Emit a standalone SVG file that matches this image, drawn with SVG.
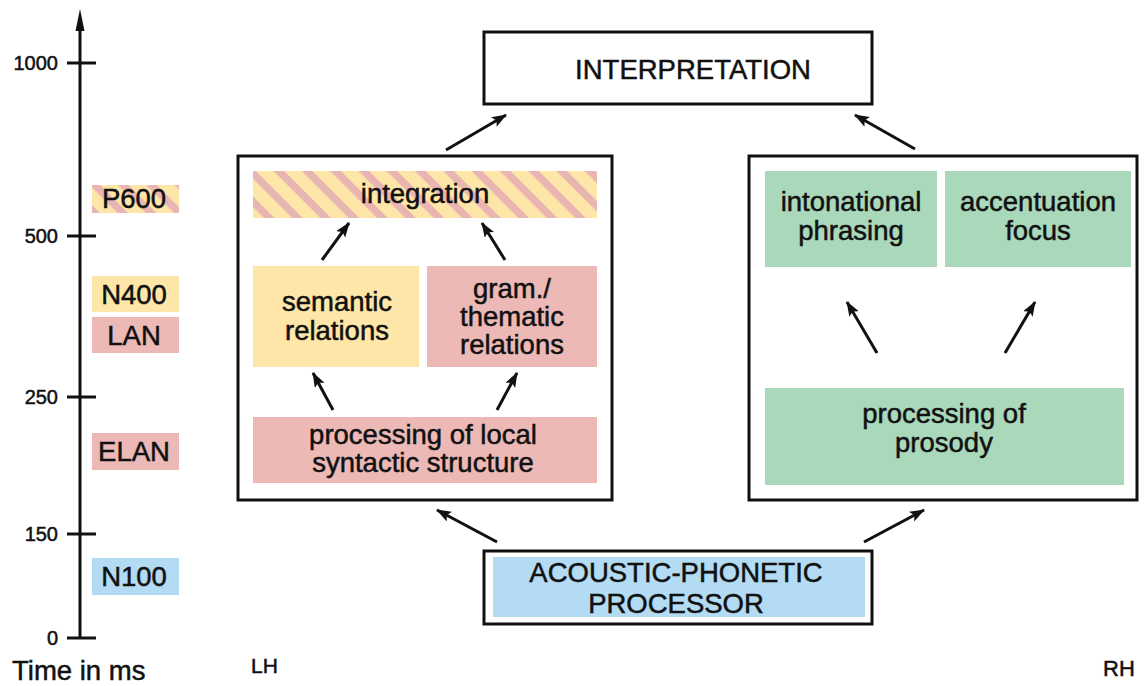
<svg xmlns="http://www.w3.org/2000/svg" width="1146" height="686" viewBox="0 0 1146 686">
<style>
text{font-family:"Liberation Sans",Arial,Helvetica,sans-serif;fill:#111;stroke:#111;stroke-width:0.5px;}
.t{font-size:27.5px;text-anchor:middle;}
.tick{font-size:20px;text-anchor:end;}
.frame{fill:#fff;stroke:#111;stroke-width:3;}
.yel{fill:#fde6a8;}
.pink{fill:#ecb9b7;}
.green{fill:#a9d8bb;}
.blue{fill:#b3dcf4;}
.ax{stroke:#111;stroke-width:3;fill:none;}
.arr{stroke:#111;stroke-width:3;fill:none;marker-end:url(#ah);}
</style>
<defs>
<marker id="ah" markerUnits="userSpaceOnUse" markerWidth="16" markerHeight="12" refX="14" refY="5.5" orient="auto">
<path d="M0,0 L15,5.5 L0,11 L3,5.5 z" fill="#111"/>
</marker>
<pattern id="hatch" patternUnits="userSpaceOnUse" width="20" height="20" patternTransform="rotate(45)">
<rect width="20" height="20" fill="#fde6a8"/>
<rect width="20" height="7.5" fill="#e9b5b2"/>
</pattern>
</defs>

<g id="axis">
<line class="ax" x1="80" y1="638" x2="80" y2="30"/>
<path d="M80,9 L84.5,31 L75.5,31 z" fill="#111"/>
<line class="ax" x1="67" y1="63" x2="96" y2="63"/>
<line class="ax" x1="67" y1="236" x2="96" y2="236"/>
<line class="ax" x1="67" y1="397" x2="96" y2="397"/>
<line class="ax" x1="67" y1="534" x2="96" y2="534"/>
<line class="ax" x1="67" y1="638" x2="96" y2="638"/>
<text class="tick" x="58" y="70">1000</text>
<text class="tick" x="58" y="243">500</text>
<text class="tick" x="58" y="404">250</text>
<text class="tick" x="58" y="541">150</text>
<text class="tick" x="58" y="645">0</text>
<text x="12" y="680" style="font-size:27.5px">Time in ms</text>
</g>

<g id="erp-labels">
<g id="p600"><rect x="92" y="185" width="87" height="28" fill="url(#hatch)"/><text class="t" x="134" y="208">P600</text></g>
<g id="n400"><rect class="yel" x="92" y="276" width="87" height="36"/><text class="t" x="134" y="304">N400</text></g>
<g id="lan"><rect class="pink" x="92" y="317" width="87" height="36"/><text class="t" x="134" y="345">LAN</text></g>
<g id="elan"><rect class="pink" x="92" y="433" width="87" height="37"/><text class="t" x="134" y="461">ELAN</text></g>
<g id="n100"><rect class="blue" x="92" y="558" width="87" height="37"/><text class="t" x="134" y="586">N100</text></g>
</g>

<g id="interpretation">
<rect class="frame" x="484" y="32" width="388" height="72"/>
<text class="t" x="693" y="79">INTERPRETATION</text>
</g>

<g id="lh-box">
<rect class="frame" x="238" y="156" width="374" height="344"/>
</g>
<g id="integration">
<rect x="253" y="171" width="344" height="47" fill="url(#hatch)"/>
<text class="t" x="425" y="203">integration</text>
</g>
<g id="semantic">
<rect class="yel" x="253" y="266" width="166" height="101"/>
<text class="t" x="337" y="311">semantic</text>
<text class="t" x="337" y="340">relations</text>
</g>
<g id="gram">
<rect class="pink" x="427" y="266" width="170" height="101"/>
<text class="t" x="512" y="298">gram./</text>
<text class="t" x="512" y="326">thematic</text>
<text class="t" x="512" y="354">relations</text>
</g>
<g id="local-syntax">
<rect class="pink" x="253" y="417" width="344" height="66"/>
<text class="t" x="423" y="444">processing of local</text>
<text class="t" x="423" y="472">syntactic structure</text>
</g>

<g id="rh-box">
<rect class="frame" x="749" y="156" width="388" height="344"/>
</g>
<g id="intonational">
<rect class="green" x="765" y="171" width="172" height="96"/>
<text class="t" x="851" y="211">intonational</text>
<text class="t" x="851" y="240">phrasing</text>
</g>
<g id="accentuation">
<rect class="green" x="945" y="171" width="186" height="96"/>
<text class="t" x="1038" y="211">accentuation</text>
<text class="t" x="1038" y="240">focus</text>
</g>
<g id="prosody">
<rect class="green" x="765" y="388" width="359" height="97"/>
<text class="t" x="944" y="423">processing of</text>
<text class="t" x="944" y="452">prosody</text>
</g>

<g id="acoustic">
<rect class="frame" x="484" y="551" width="388" height="73"/>
<rect class="blue" x="493" y="557" width="372" height="60"/>
<text class="t" x="676" y="582">ACOUSTIC-PHONETIC</text>
<text class="t" x="676" y="613">PROCESSOR</text>
</g>

<text id="lh" x="251" y="673" style="font-size:21px">LH</text>
<text id="rh" x="1103" y="676" style="font-size:22px">RH</text>

<g id="connectors">
<line class="arr" x1="446" y1="150" x2="506" y2="115"/>
<line class="arr" x1="915" y1="149" x2="855" y2="115"/>
<line class="arr" x1="322" y1="260" x2="349" y2="223"/>
<line class="arr" x1="505" y1="260" x2="482" y2="223"/>
<line class="arr" x1="333" y1="410" x2="313" y2="373"/>
<line class="arr" x1="497" y1="410" x2="517" y2="373"/>
<line class="arr" x1="877" y1="353" x2="847" y2="302"/>
<line class="arr" x1="1005" y1="353" x2="1035" y2="302"/>
<line class="arr" x1="497" y1="542" x2="437" y2="510"/>
<line class="arr" x1="864" y1="542" x2="924" y2="510"/>
</g>
</svg>
